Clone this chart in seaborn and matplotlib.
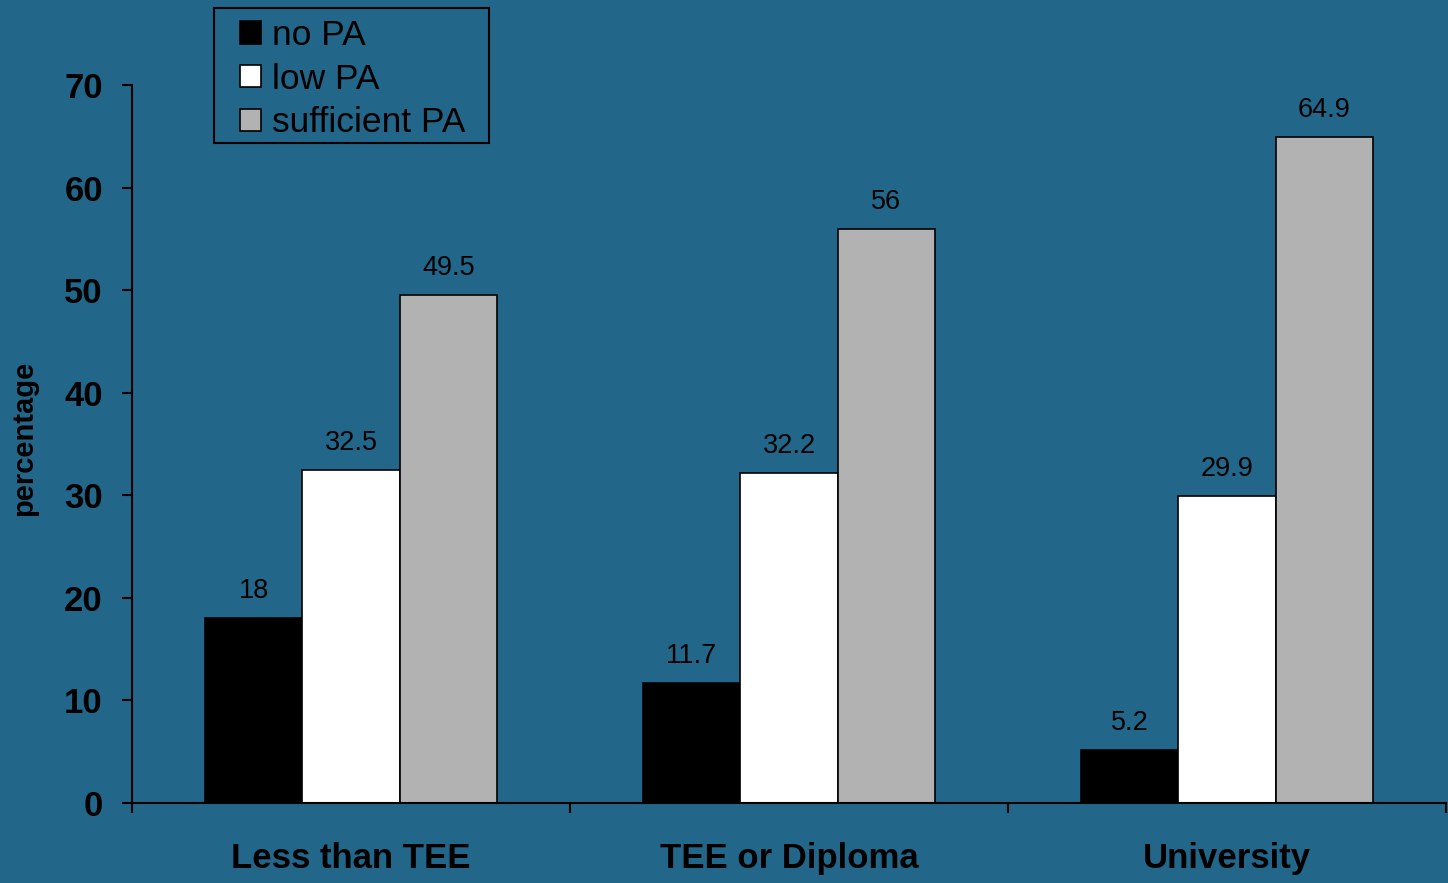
import matplotlib
matplotlib.use("Agg")
import matplotlib.pyplot as plt
import matplotlib.patches as mpatches
import seaborn as sns
import pandas as pd

categories = ["Less than TEE", "TEE or Diploma", "University"]
series = ["no PA", "low PA", "sufficient PA"]
no_pa = [18, 11.7, 5.2]
low_pa = [32.5, 32.2, 29.9]
sufficient_pa = [49.5, 56, 64.9]
yticks = [0, 10, 20, 30, 40, 50, 60, 70]

bg = "#226789"
colors = ["#000000", "#ffffff", "#b2b2b2"]

rows = []
for s, vals in zip(series, [no_pa, low_pa, sufficient_pa]):
    for c, v in zip(categories, vals):
        rows.append({"education": c, "group": s, "value": v})
df = pd.DataFrame(rows)

sns.set_theme(style="white")
plt.rcParams["font.family"] = ["Liberation Sans", "DejaVu Sans"]

W, H = 1448, 883
fig = plt.figure(figsize=(W / 100, H / 100), dpi=100, facecolor=bg)
ax = fig.add_axes([132 / W, 1 - 803 / H, (1446 - 132) / W, (803 - 85) / H])
ax.set_facecolor(bg)

sns.barplot(data=df, x="education", y="value", hue="group", order=categories,
            hue_order=series, palette=colors, saturation=1, width=0.667,
            edgecolor="black", linewidth=1.2, ax=ax, legend=True)

for cont in ax.containers:
    ax.bar_label(cont, fmt="%g", padding=10, fontsize=19.5, color="black")

ax.set_xlim(-0.5, 2.5)
ax.set_ylim(0, 70)
ax.set_yticks(yticks)
ax.set_yticklabels([str(t) for t in yticks], fontsize=25, fontweight="bold", color="black")
ax.set_xticks(range(len(categories)))
ax.set_xticklabels(categories, fontsize=25, fontweight="bold", color="black")
ax.set_xticks([-0.5, 0.5, 1.5, 2.5], minor=True)
ax.tick_params(axis="x", which="major", length=0, pad=28)
ax.tick_params(axis="x", which="minor", length=7, width=1.5, direction="out", color="black", bottom=True)
ax.tick_params(axis="y", which="major", length=7, width=1.5, direction="out", color="black", pad=14, left=True)

ax.set_xlabel("")
ax.set_ylabel("percentage", fontsize=21, fontweight="bold", color="black", labelpad=19)
ax.yaxis.label.set_y(0.508)

for side in ["top", "right"]:
    ax.spines[side].set_visible(False)
for side in ["left", "bottom"]:
    ax.spines[side].set_visible(True)
    ax.spines[side].set_color("black")
    ax.spines[side].set_linewidth(1.5)

# legend frame (box) and entries
frame = mpatches.Rectangle((214 / W, 1 - 143 / H), (489 - 214) / W, (143 - 8) / H,
                           transform=fig.transFigure, facecolor=bg, edgecolor="black",
                           linewidth=1.5, zorder=5, clip_on=False)
ax.add_artist(frame)

handles, labels = ax.get_legend_handles_labels()
leg = ax.legend(handles, labels, loc="upper left",
                bbox_to_anchor=(240 / W, 1 - 19 / H), bbox_transform=fig.transFigure,
                fontsize=25.5, frameon=False,
                handlelength=0.6, handleheight=0.6, handletextpad=0.3, labelspacing=0.3,
                borderpad=0, borderaxespad=0)
leg.set_zorder(6)
for t in leg.get_texts():
    t.set_color("black")

fig.savefig("out.png", dpi=100, facecolor=bg)
